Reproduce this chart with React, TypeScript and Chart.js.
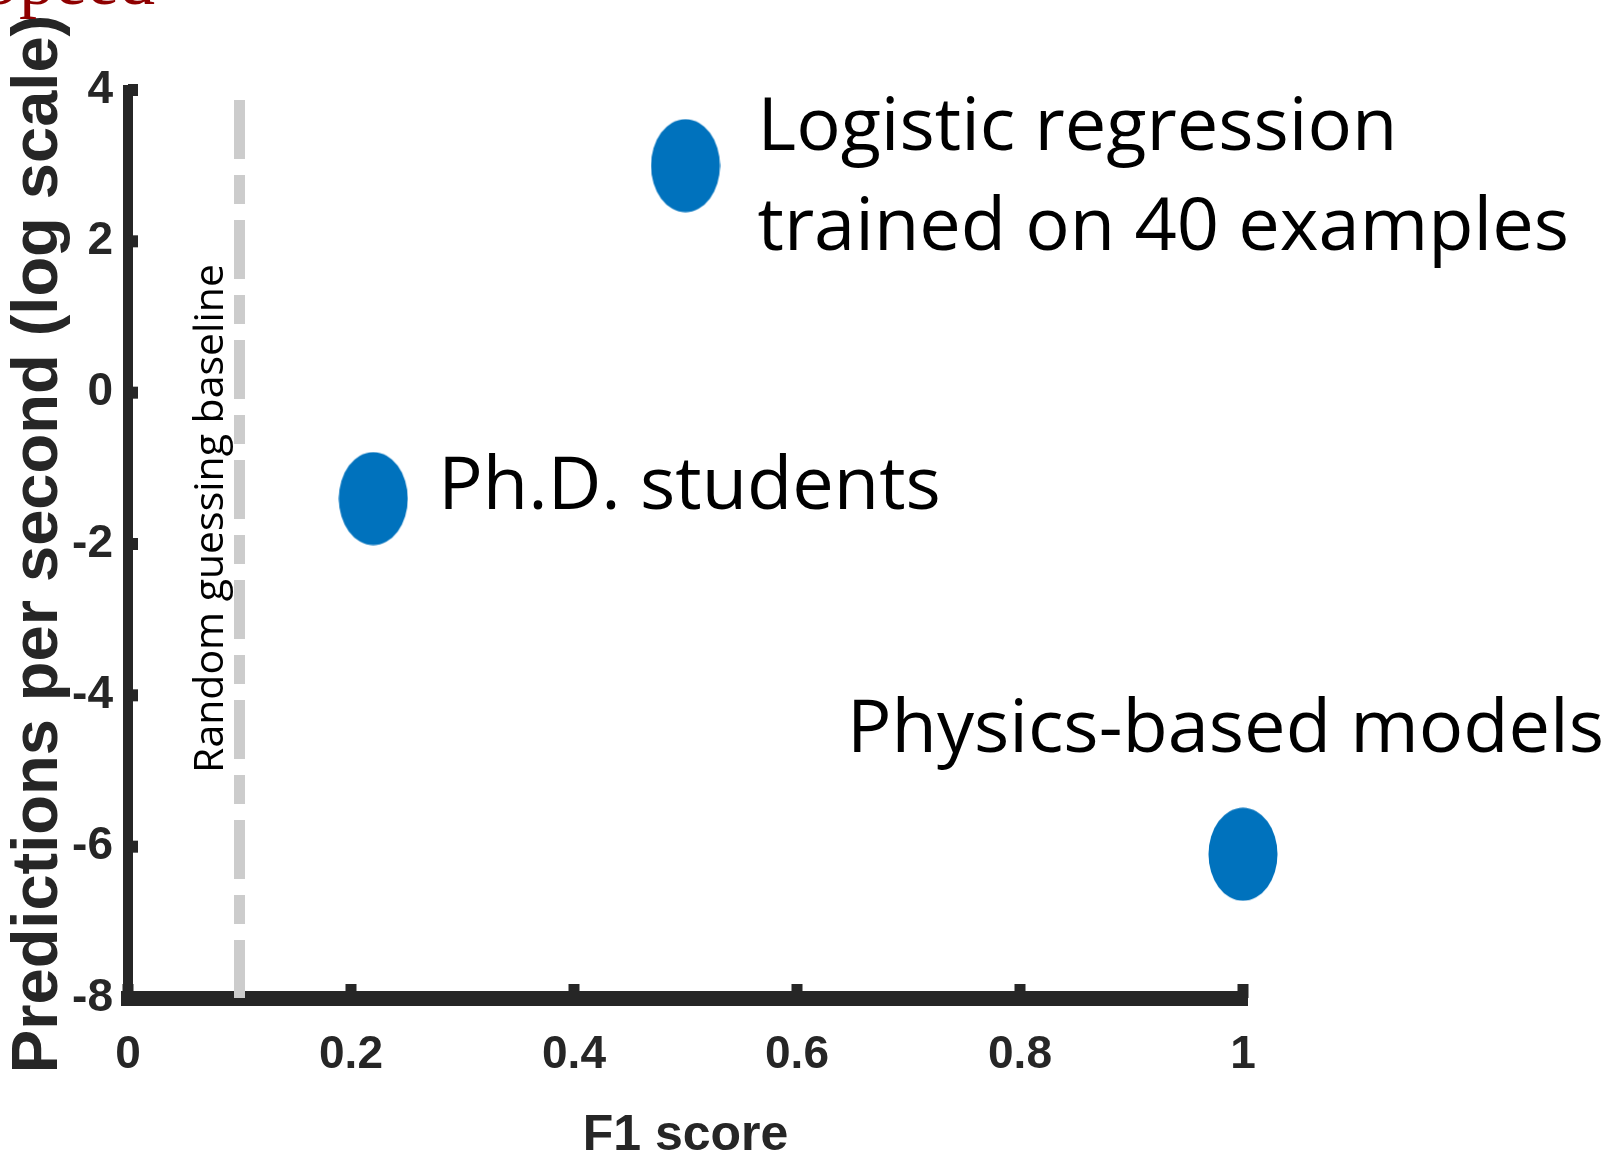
import React, { useEffect, useRef } from 'react';
import { Chart, registerables } from 'chart.js';

Chart.register(...registerables);

// ---- data ----
const categories = ['Ph.D. students', 'Logistic regression trained on 40 examples', 'Physics-based models'];
const labelLines = [['Ph.D. students'], ['Logistic regression', 'trained on 40 examples'], ['Physics-based models']];
const f1Scores = [0.22, 0.5, 1.0];
const logPredictionsPerSecond = [-1.4, 3.0, -6.1];
const baselineF1 = 0.1;
const baselineLabel = 'Random guessing baseline';
const xTickValues = [0, 0.2, 0.4, 0.6, 0.8, 1];
const xTickLabels = ['0', '0.2', '0.4', '0.6', '0.8', '1'];
const yTickValues = [-8, -6, -4, -2, 0, 2, 4];
const yTickLabels = ['-8', '-6', '-4', '-2', '0', '2', '4'];
const xTitle = 'F1 score';
const yTitle = 'Predictions per second (log scale)';
const slideTitle = 'Speed';

// ---- styling ----
const AXIS_COLOR = '#262626';
const POINT_COLOR = '#0072BD';
const BASELINE_COLOR = '#cccccc';
const SANS = '"Liberation Sans", Arial, sans-serif';
const LABEL_FONT = '"Open Sans", "Noto Sans", sans-serif';
const labelOffsets = [
  { dx: 65, dy: [10] },
  { dx: 72, dy: [-16, 84] },
  { dx: -396, dy: [-102] },
];

function makeEllipse(w: number, h: number, color: string) {
  const c = document.createElement('canvas');
  c.width = w;
  c.height = h;
  const g = c.getContext('2d')!;
  g.fillStyle = color;
  g.beginPath();
  g.ellipse(w / 2, h / 2, w / 2 - 0.5, h / 2 - 0.5, 0, 0, Math.PI * 2);
  g.fill();
  return c;
}

const decorPlugin = {
  id: 'decor',
  afterDatasetsDraw(chart: any) {
    const { ctx, scales } = chart;
    const xs = scales.x;
    const ys = scales.y;
    ctx.save();
    // inward tick marks
    ctx.fillStyle = AXIS_COLOR;
    ys.ticks.forEach((t: any) => {
      const py = ys.getPixelForValue(t.value);
      ctx.fillRect(ys.right, py - 6, 10, 12);
    });
    xs.ticks.forEach((t: any) => {
      const px = xs.getPixelForValue(t.value);
      ctx.fillRect(px - 5.5, xs.top - 14, 11, 14);
    });
    // point annotations
    const meta = chart.getDatasetMeta(0);
    ctx.fillStyle = '#000000';
    ctx.font = `74px ${LABEL_FONT}`;
    ctx.textAlign = 'left';
    ctx.textBaseline = 'alphabetic';
    meta.data.forEach((pt: any, i: number) => {
      const off = labelOffsets[i];
      labelLines[i].forEach((line, j) => {
        ctx.fillText(line, pt.x + off.dx, pt.y + off.dy[j]);
      });
    });
    // baseline label (rotated)
    const bx = xs.getPixelForValue(baselineF1) - 16.5;
    const by = (chart.chartArea.top + chart.chartArea.bottom) / 2 - 25.5;
    ctx.translate(bx, by);
    ctx.rotate(-Math.PI / 2);
    ctx.font = `41px ${LABEL_FONT}`;
    ctx.textAlign = 'center';
    ctx.fillText(baselineLabel, 0, 0);
    ctx.restore();
    // clipped slide title at the very top
    ctx.save();
    ctx.font = '72px "Liberation Serif", "DejaVu Serif", serif';
    ctx.fillStyle = '#8f0000';
    ctx.textAlign = 'right';
    ctx.textBaseline = 'alphabetic';
    ctx.fillText(slideTitle, 155, 4);
    ctx.restore();
  },
};

export default function App() {
  const ref = useRef<HTMLCanvasElement>(null);
  useEffect(() => {
    document.body.style.margin = '0';
    const ellipse = makeEllipse(70, 94, POINT_COLOR);
    const yMin = yTickValues[0];
    const yMax = yTickValues[yTickValues.length - 1];
    const chart = new Chart(ref.current!, {
      type: 'scatter',
      data: {
        datasets: [
          {
            label: 'Methods',
            data: f1Scores.map((x, i) => ({ x, y: logPredictionsPerSecond[i] })),
            pointStyle: ellipse as any,
            pointRadius: 35,
            backgroundColor: POINT_COLOR,
            borderColor: POINT_COLOR,
            clip: false as any,
          },
          {
            label: baselineLabel,
            data: [
              { x: baselineF1, y: yMax },
              { x: baselineF1, y: yMin },
            ],
            showLine: true,
            pointRadius: 0,
            borderColor: BASELINE_COLOR,
            borderWidth: 11,
            borderDash: [59, 16, 29, 16],
            borderDashOffset: 110,
            borderCapStyle: 'butt',
            fill: false,
          } as any,
        ],
      },
      options: {
        responsive: false,
        animation: false,
        devicePixelRatio: 1,
        events: [],
        layout: { padding: { top: 90, right: 363, bottom: 0, left: 0 } },
        plugins: { legend: { display: false }, tooltip: { enabled: false }, title: { display: false } },
        scales: {
          x: {
            type: 'linear',
            position: 'bottom',
            min: 0,
            max: 1,
            afterBuildTicks: (s: any) => {
              s.ticks = xTickValues.map((v) => ({ value: v }));
            },
            afterFit: (s: any) => {
              s.height = 159;
            },
            ticks: {
              autoSkip: false,
              maxRotation: 0,
              padding: 34,
              color: AXIS_COLOR,
              font: { family: SANS, size: 46, weight: 'bold', lineHeight: 1 },
              callback: (_v: any, i: number) => xTickLabels[i],
            },
            grid: { drawOnChartArea: false, drawTicks: false, lineWidth: 10, color: 'rgba(0,0,0,0)' },
            border: { display: true, color: AXIS_COLOR, width: 15 },
            title: {
              display: true,
              text: xTitle,
              color: AXIS_COLOR,
              font: { family: SANS, size: 50, weight: 'bold', lineHeight: 1 },
              padding: { top: 0, bottom: -4 },
            },
          },
          y: {
            type: 'linear',
            position: 'left',
            min: yMin,
            max: yMax,
            afterBuildTicks: (s: any) => {
              s.ticks = yTickValues.map((v) => ({ value: v }));
            },
            afterFit: (s: any) => {
              s.width = 128;
            },
            ticks: {
              autoSkip: false,
              padding: 15,
              color: AXIS_COLOR,
              font: { family: SANS, size: 46, weight: 'bold', lineHeight: 1 },
              callback: (_v: any, i: number) => yTickLabels[i],
            },
            grid: { drawOnChartArea: false, drawTicks: false, lineWidth: 10, color: 'rgba(0,0,0,0)' },
            border: { display: true, color: AXIS_COLOR, width: 10 },
            title: {
              display: true,
              text: yTitle,
              color: AXIS_COLOR,
              font: { family: SANS, size: 65, weight: 'bold', lineHeight: 1 },
              padding: { top: 7, bottom: 0 },
            },
          },
        },
      } as any,
      plugins: [decorPlugin],
    });
    return () => chart.destroy();
  }, []);
  return (
    <div style={{ width: 1606, height: 1157, background: '#ffffff' }}>
      <canvas ref={ref} width={1606} height={1157} style={{ display: 'block' }} aria-label={categories.join(', ')} />
    </div>
  );
}
